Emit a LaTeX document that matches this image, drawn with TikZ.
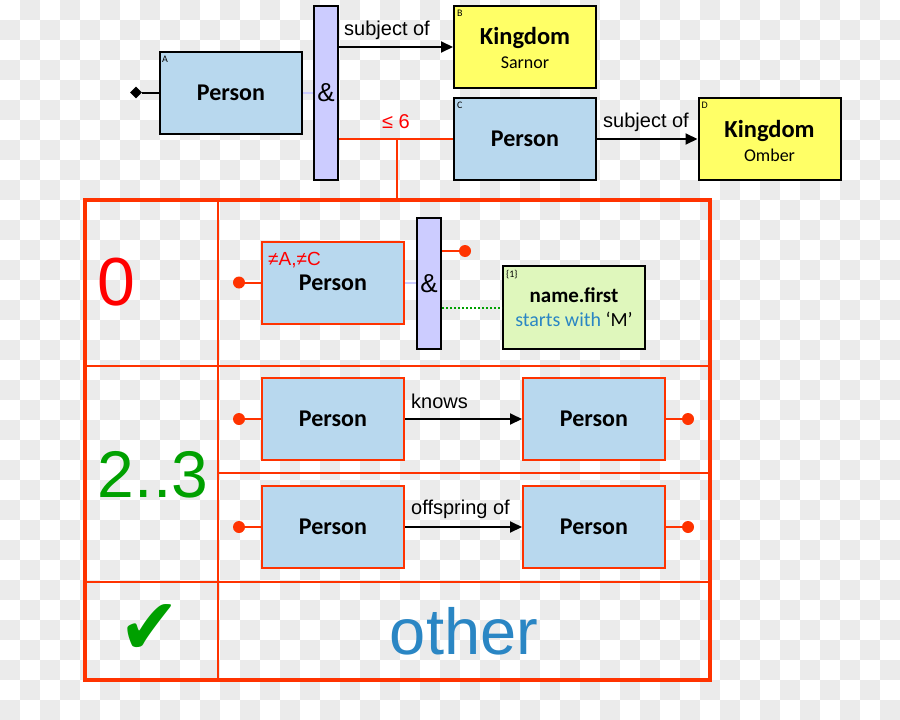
\documentclass[tikz,border=0pt]{standalone}
\usepackage{fontspec}
\setmainfont{Carlito}
\newfontfamily\arial{Liberation Sans}
\newfontfamily\dejavu{DejaVu Sans}
\usetikzlibrary{arrows.meta,shapes.geometric}
\definecolor{pblue}{HTML}{B8D8EE}
\definecolor{kyellow}{HTML}{FFFF66}
\definecolor{apurple}{HTML}{CCCCFF}
\definecolor{ngreen}{HTML}{DFF7BC}
\definecolor{tred}{HTML}{FF3300}
\definecolor{tgreen}{HTML}{00A000}
\definecolor{tblue}{HTML}{2A86C4}
\definecolor{checker}{HTML}{EBEBEB}
\newcommand{\fsz}[1]{\fontsize{#1}{#1}\selectfont}
\begin{document}
\begin{tikzpicture}[x=1pt,y=-1pt,
 box/.style={draw,line width=2pt,minimum width=142pt,minimum height=82pt,inner sep=0pt},
 person/.style={box,fill=pblue,font=\fsz{24}\bfseries},
 rperson/.style={person,draw=tred},
 kingdom/.style={box,fill=kyellow},
 andbar/.style={draw,line width=2pt,fill=apurple,minimum width=24pt,inner sep=0pt,font=\arial\fsz{26}},
 tag/.style={anchor=north west,inner sep=0pt,font=\fsz{10}},
 dot/.style={circle,fill=tred,minimum size=12pt,inner sep=0pt},
 rel/.style={line width=2pt,-{Triangle[length=12pt,width=11pt]}},
 rlabel/.style={anchor=base west,inner sep=0pt,font=\arial\fsz{20}},
 tline/.style={tred,line width=2pt},
 link/.style={apurple,line width=2pt},
 ktitle/.style={anchor=base,inner sep=0pt,font=\fsz{24.5}\bfseries},
 ksub/.style={anchor=base,inner sep=0pt,font=\fsz{18}},
]
\useasboundingbox (0,0) rectangle (900,720);
% checkerboard background
\foreach \i in {0,2,...,44}{\foreach \j in {1,3,...,35}{\fill[checker] (\i*20,\j*20) rectangle ++(20,20);}}
\foreach \i in {1,3,...,43}{\foreach \j in {0,2,...,34}{\fill[checker] (\i*20,\j*20) rectangle ++(20,20);}}

% ---------- top part ----------
\node[person] (A) at (231,92.5) {Person};
\node[tag] at ([xshift=3pt,yshift=-5pt]A.north west) {A};
\node[diamond,fill,minimum size=12pt,inner sep=0pt] (dA) at (136,92.5) {};
\draw[line width=2pt] (dA) -- (A.west);

\node[andbar,minimum height=174pt] (and1) at (326,93) {\&};
\draw[link] (A.east) -- (A.east -| and1.west);

\node[kingdom] (B) at (525,47) {};
\node[tag] at ([xshift=4pt,yshift=-5pt]B.north west) {B};
\node[ktitle] (Bt) at (525,44) {Kingdom};
\node[ksub] (Bs) at (525,68) {Sarnor};
\draw[rel] (and1.east |- B.west) -- (B.west);
\node[rlabel] (l1) at (344,35) {subject of};

\node[person] (C) at (525,139) {Person};
\node[tag] at ([xshift=4pt,yshift=-5pt]C.north west) {C};
\draw[tline] (and1.east |- C.west) -- (C.west);
\node[anchor=base,inner sep=0pt,font=\arial\fsz{20},text=red] (le6) at (396,128) {≤ 6};

\node[kingdom] (D) at (769.5,139) {};
\node[tag] at ([xshift=4pt,yshift=-5pt]D.north west) {D};
\node[ktitle] (Dt) at (769.5,137) {Kingdom};
\node[ksub] (Ds) at (769.5,161) {Omber};
\draw[rel] (C.east) -- (D.west);
\node[rlabel] (l2) at (603,127) {subject of};

% ---------- table ----------
\node[draw=tred,line width=4pt,minimum width=625pt,minimum height=480pt,inner sep=0pt] (T) at (397.5,440) {};
\coordinate (j) at (397,139);
\draw[tline] (j) -- (j |- T.north);
\draw[tline] (218,200) -- (218,680);
\draw[tline] (85,366) -- (710,366);
\draw[tline] (85,582) -- (710,582);
\draw[tline] (218,473) -- (710,473);

% row 1
\node[anchor=base,inner sep=0pt,font=\arial\fsz{68},text=red] (n0) at (116.5,305) {0};
\node[rperson] (P1) at (333,282.5) {Person};
\node[anchor=base west,inner sep=0pt,font=\arial\fsz{19},text=red] (neq) at (268,265) {≠A,≠C};
\node[dot] (d1) at (239,282.5) {};
\draw[tline] (d1) -- (P1.west);
\node[andbar,minimum height=131pt] (and2) at (429,283.5) {\&};
\draw[link] (P1.east) -- (P1.east -| and2.west);
\node[dot] (d2) at (465,251) {};
\draw[tline] (and2.east |- d2) -- (d2);
\node[box,minimum width=142pt,minimum height=83pt,fill=ngreen] (G) at (574,307.5) {};
\node[tag] at ([xshift=4pt,yshift=-5pt]G.north west) {\{1\}};
\node[anchor=base,inner sep=0pt,font=\fsz{21}\bfseries] (Gt) at (574,302) {name.first};
\node[anchor=base,inner sep=0pt,font=\fsz{20}] (Gs) at (574,326) {\textcolor{tblue}{starts with} ‘M’};
\draw[tgreen,line width=2pt,dotted] (and2.east |- G.west) -- (G.west);

% rows 2 and 3
\node[anchor=base,inner sep=0pt,font=\arial\fsz{66},text=tgreen] (n23) at (153,497) {2..3};
\node[rperson] (P2) at (333,419) {Person};
\node[rperson] (P3) at (594,419) {Person};
\node[dot] (d3) at (239,419) {};
\node[dot] (d4) at (688,419) {};
\draw[tline] (d3) -- (P2.west);
\draw[tline] (P3.east) -- (d4);
\draw[rel] (P2.east) -- (P3.west);
\node[rlabel] (l3) at (411,408) {knows};

\node[rperson] (P4) at (333,527) {Person};
\node[rperson] (P5) at (594,527) {Person};
\node[dot] (d5) at (239,527) {};
\node[dot] (d6) at (688,527) {};
\draw[tline] (d5) -- (P4.west);
\draw[tline] (P5.east) -- (d6);
\draw[rel] (P4.east) -- (P5.west);
\node[rlabel] (l4) at (411,514) {offspring of};

% row 4
\node[inner sep=0pt,font=\dejavu\fsz{72},text=tgreen,yscale=1.1] (chk) at (150,630) {✔};
\node[anchor=base,inner sep=0pt,font=\arial\fsz{65},text=tblue] (oth) at (464,654) {other};
\end{tikzpicture}
\end{document}
